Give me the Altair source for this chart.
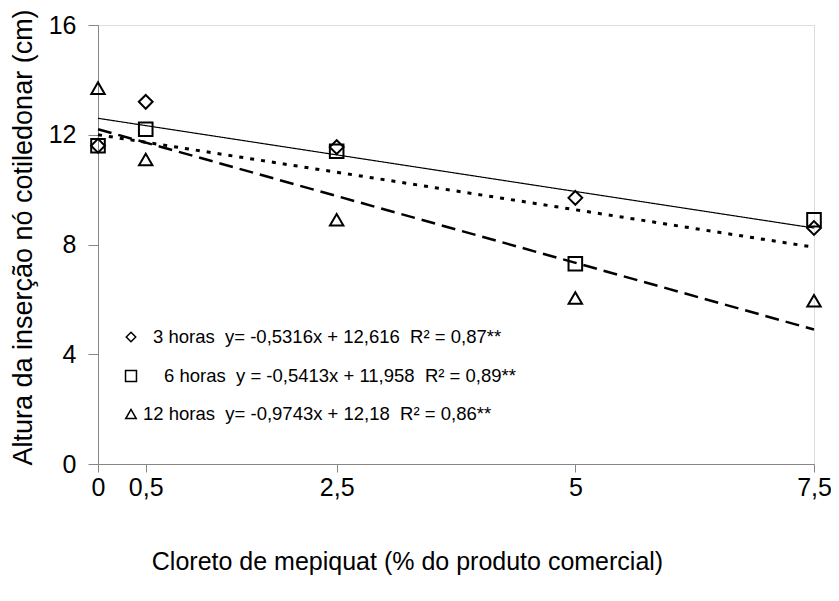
import altair as alt
import pandas as pd

FONT = "Liberation Sans"

# ---- data ----
doses = [0, 0.5, 2.5, 5, 7.5]
h3 = [11.6, 13.2, 11.55, 9.7, 8.6]
h6 = [11.6, 12.2, 11.4, 7.3, 8.9]
h12 = [13.7, 11.1, 8.9, 6.05, 5.95]

trend_x = [0, 7.5]
trend_h3 = [12.6, 8.6]
trend_h6 = [12.0, 7.9]
trend_h12 = [12.2, 4.9]

series = ["3 horas", "6 horas", "12 horas"]
shapes = ["diamond", "square", "triangle-up"]
legend_text = [
    "3 horas\u00a0 y= -0,5316x + 12,616\u00a0 R² = 0,87**",
    "6 horas\u00a0 y = -0,5413x + 11,958\u00a0 R² = 0,89**",
    "12 horas\u00a0 y= -0,9743x + 12,18\u00a0 R² = 0,86**",
]
x_ticks = [0, 0.5, 2.5, 5, 7.5]
y_ticks = [0, 4, 8, 12, 16]

# ---- tables ----
pts = pd.DataFrame({
    "dose": doses * 3,
    "altura": h3 + h6 + h12,
    "serie": [series[0]] * 5 + [series[1]] * 5 + [series[2]] * 5,
})

x_scale = alt.Scale(domain=[0, 7.5], nice=False, zero=False)
y_scale = alt.Scale(domain=[0, 16], nice=False)

x_axis = alt.Axis(
    values=x_ticks, grid=False, title="Cloreto de mepiquat (% do produto comercial)",
    labelExpr="replace(format(datum.value, '~g'), '.', ',')", labelFont=FONT, labelFontSize=25,
    labelColor="black", labelPadding=3, tickSize=8, tickColor="#868686",
    domainColor="#868686", titleFont=FONT, titleFontSize=25, titleFontWeight="normal",
    titleColor="black", titleX=309, titleY=97, titleAlign="center",
    titleBaseline="middle", labelFlush=False, labelOverlap=False,
)
y_axis = alt.Axis(
    values=y_ticks, grid=False, title="Altura da inserção nó cotiledonar (cm)",
    labelFont=FONT, labelFontSize=25, labelColor="black", labelPadding=12,
    tickSize=10, tickColor="#868686", domainColor="#868686", titleFont=FONT,
    titleFontSize=27, titleFontWeight="normal", titleColor="black",
    titleX=-75, titleY=212, titleAngle=270, titleAlign="center",
    titleBaseline="middle", labelFlush=False, labelOverlap=False,
)


def trend(ys, dash, width):
    df = pd.DataFrame({"dose": trend_x, "altura": ys})
    return alt.Chart(df).mark_line(color="black", strokeDash=dash, strokeWidth=width).encode(
        x=alt.X("dose:Q", scale=x_scale, axis=x_axis),
        y=alt.Y("altura:Q", scale=y_scale, axis=y_axis),
    )


line3 = trend(trend_h3, [1, 0], 1.2)
line6 = trend(trend_h6, [4, 7], 3)
line12 = trend(trend_h12, [14, 7], 2.5)

points = alt.Chart(pts).mark_point(filled=False, color="black", strokeWidth=2, opacity=1).encode(
    x=alt.X("dose:Q", scale=x_scale, axis=x_axis),
    y=alt.Y("altura:Q", scale=y_scale, axis=y_axis),
    shape=alt.Shape("serie:N", scale=alt.Scale(domain=series, range=shapes), legend=None),
    size=alt.Size("serie:N", scale=alt.Scale(domain=series, range=[190, 180, 200]), legend=None),
)

# ---- in-plot legend ----
legend_rows_y = [312, 351, 389]
legend_text_x = [55, 66, 45]
legend_sizes = [90, 120, 110]
legend_layers = []
for i in range(3):
    one = pd.DataFrame({"t": [legend_text[i]]})
    legend_layers.append(
        alt.Chart(one).mark_point(shape=shapes[i], size=legend_sizes[i], filled=False,
                                  color="black", strokeWidth=1.5, opacity=1).encode(
            x=alt.value(33), y=alt.value(legend_rows_y[i]))
    )
    legend_layers.append(
        alt.Chart(one).mark_text(align="left", baseline="middle", font=FONT,
                                 fontSize=18.5, color="black").encode(
            text="t:N", x=alt.value(legend_text_x[i]), y=alt.value(legend_rows_y[i]))
    )

chart = alt.layer(line3, line6, line12, points, *legend_layers).properties(
    width=716, height=439,
    autosize=alt.AutoSizeParams(type="none"),
    padding={"left": 90, "top": 17, "right": 17, "bottom": 128},
).configure_view(stroke=None).configure(background="white")

chart.save("out.html", embed_options={"renderer": "svg", "actions": False})
